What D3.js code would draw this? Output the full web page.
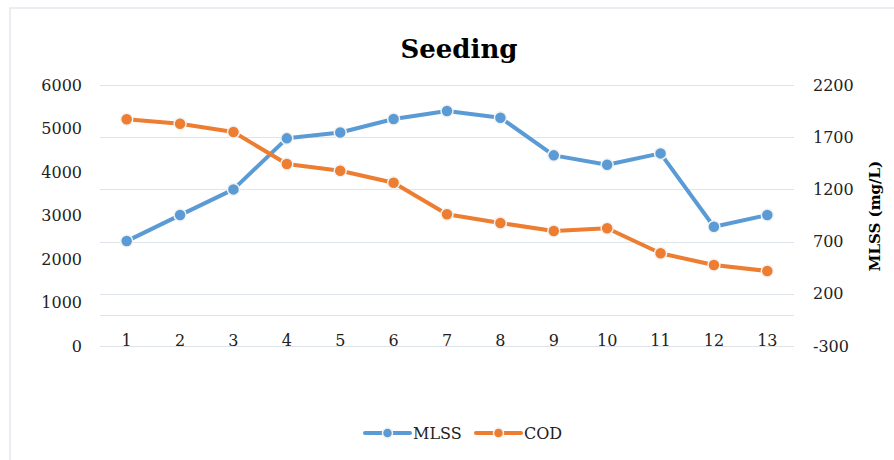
<!DOCTYPE html>
<html>
<head>
<meta charset="utf-8">
<script src="https://cdn.jsdelivr.net/npm/d3@7"></script>
<style>
  html, body { margin: 0; padding: 0; background: #ffffff; }
  svg { display: block; }
</style>
</head>
<body>
<svg id="chart" width="894" height="460"></svg>
<script>
// ---- data ----
const categories = [1, 2, 3, 4, 5, 6, 7, 8, 9, 10, 11, 12, 13];
const mlss = [705, 954, 1200, 1689, 1745, 1874, 1951, 1887, 1526, 1436, 1545, 842, 954];
const cod = [5211, 5110, 4920, 4184, 4028, 3754, 3028, 2828, 2644, 2706, 2131, 1862, 1724];
const leftTicks = [0, 1000, 2000, 3000, 4000, 5000, 6000];
const rightTicks = [-300, 200, 700, 1200, 1700, 2200];
const titleText = "Seeding";
const rightTitle = "MLSS (mg/L)";
const seriesNames = ["MLSS", "COD"];

// ---- layout ----
const W = 894, H = 460;
const plot = { left: 100, right: 794, top: 85, bottom: 346 };
const blue = "#5b9bd5", orange = "#ed7d31", gridColor = "#dfe3ea";
const serif = "'DejaVu Serif', serif";

const svg = d3.select("#chart");

// chart border
svg.append("rect")
  .attr("x", 10).attr("y", 8).attr("width", W + 20).attr("height", H + 20)
  .attr("fill", "#fff").attr("stroke", "#e3e7ee").attr("stroke-width", 1.5);

const x = d3.scaleBand().domain(categories).range([plot.left, plot.right]).padding(0);
const xc = d => x(d) + x.bandwidth() / 2;
const yL = d3.scaleLinear().domain([0, 6000]).range([plot.bottom, plot.top]);
const yR = d3.scaleLinear().domain([-300, 2200]).range([plot.bottom, plot.top]);

// gridlines (secondary axis ticks + zero line)
const gridVals = rightTicks.concat([0]);
svg.append("g").selectAll("line").data(gridVals).join("line")
  .attr("x1", plot.left).attr("x2", plot.right)
  .attr("y1", d => Math.round(yR(d)) + 0.5).attr("y2", d => Math.round(yR(d)) + 0.5)
  .attr("stroke", gridColor).attr("stroke-width", 1.2);

// title
svg.append("text")
  .attr("x", 459).attr("y", 58).attr("text-anchor", "middle")
  .attr("font-family", serif).attr("font-weight", "bold").attr("font-size", 26)
  .attr("fill", "#000").text(titleText);

const plainFmt = d => String(d);

// left axis
const gL = svg.append("g").attr("transform", `translate(${plot.left},0)`)
  .call(d3.axisLeft(yL).tickValues(leftTicks).tickSize(0).tickPadding(18).tickFormat(plainFmt));
gL.select(".domain").remove();
gL.selectAll("text").attr("font-family", serif).attr("font-size", 16).attr("fill", "#222");

// right axis
const gR = svg.append("g").attr("transform", `translate(${plot.right},0)`)
  .call(d3.axisRight(yR).tickValues(rightTicks).tickSize(0).tickPadding(19).tickFormat(plainFmt));
gR.select(".domain").remove();
gR.selectAll("text").attr("font-family", serif).attr("font-size", 16).attr("fill", "#222");

// x axis
const gX = svg.append("g").attr("transform", `translate(0,335)`)
  .call(d3.axisBottom(x).tickSize(0).tickPadding(0));
gX.select(".domain").remove();
gX.selectAll("text").attr("font-family", serif).attr("font-size", 16).attr("fill", "#222");

// right axis title
svg.append("text")
  .attr("transform", `translate(880,216) rotate(-90)`)
  .attr("text-anchor", "middle")
  .attr("font-family", serif).attr("font-weight", "bold").attr("font-size", 15)
  .attr("fill", "#000").text(rightTitle);

// series
function drawSeries(values, yScale, color) {
  const line = d3.line().x((d, i) => xc(categories[i])).y(d => yScale(d));
  svg.append("path").datum(values)
    .attr("d", line).attr("fill", "none").attr("stroke", color)
    .attr("stroke-width", 4).attr("stroke-linejoin", "round").attr("stroke-linecap", "round");
  svg.append("g").selectAll("circle").data(values).join("circle")
    .attr("cx", (d, i) => xc(categories[i])).attr("cy", d => yScale(d))
    .attr("r", 6).attr("fill", color)
    .attr("stroke", "#f2f2f2").attr("stroke-width", 1.5);
}
drawSeries(mlss, yR, blue);
drawSeries(cod, yL, orange);

// legend
const legendItems = [
  { name: seriesNames[0], color: blue, x: 365 },
  { name: seriesNames[1], color: orange, x: 476 }
];
const lg = svg.append("g");
legendItems.forEach(it => {
  const ly = 433;
  lg.append("line").attr("x1", it.x).attr("x2", it.x + 45).attr("y1", ly).attr("y2", ly)
    .attr("stroke", it.color).attr("stroke-width", 4).attr("stroke-linecap", "round");
  lg.append("circle").attr("cx", it.x + 22.5).attr("cy", ly).attr("r", 5)
    .attr("fill", it.color).attr("stroke", "#f2f2f2").attr("stroke-width", 1.5);
  lg.append("text").attr("x", it.x + 48).attr("y", ly + 6)
    .attr("font-family", serif).attr("font-size", 16).attr("fill", "#222").text(it.name);
});
</script>
</body>
</html>
